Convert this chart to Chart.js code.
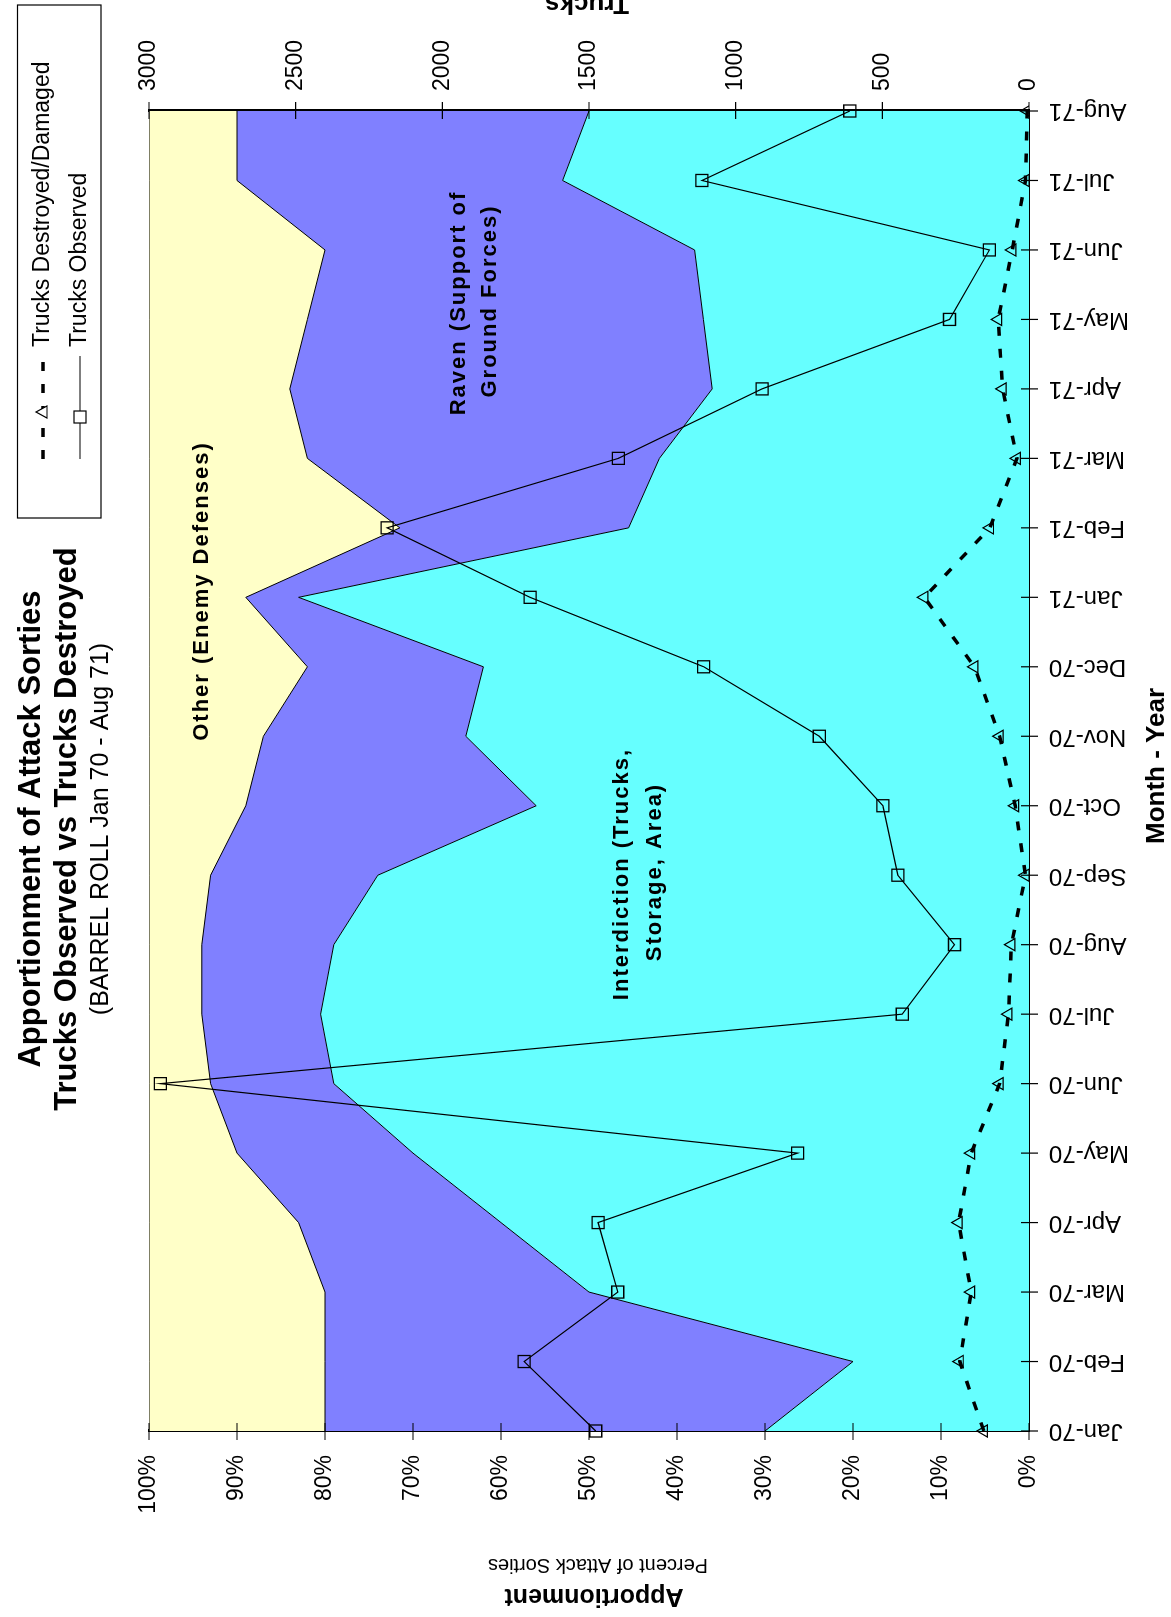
<!DOCTYPE html>
<html>
<head>
<meta charset="utf-8">
<script src="https://cdn.jsdelivr.net/npm/chart.js@4.4.1/dist/chart.umd.min.js"></script>
<style>
html, body { margin: 0; padding: 0; background: #fff; overflow: hidden; }
/* the chart is drawn landscape and turned a quarter turn to the left */
#wrap { position: absolute; left: 0; top: 1617px; width: 1617px; height: 1171px;
        transform-origin: 0 0; transform: rotate(-90deg); }
</style>
</head>
<body>
<div id="wrap"><canvas id="myChart" width="1617" height="1171"></canvas></div>
<script>
const months = ['Jan-70','Feb-70','Mar-70','Apr-70','May-70','Jun-70','Jul-70','Aug-70','Sep-70','Oct-70',
                'Nov-70','Dec-70','Jan-71','Feb-71','Mar-71','Apr-71','May-71','Jun-71','Jul-71','Aug-71'];
// percent of attack sorties
const interdiction = [30, 20, 50, 60, 70, 79, 80.5, 79, 74, 56, 64, 62, 83, 45.5, 42, 36, 37, 38, 53, 50];
const raven        = [50, 60, 30, 23, 20, 14, 13.5, 15, 19, 33, 23, 20, 6, 26, 40, 48, 45, 42, 37, 40];
const other        = [20, 20, 20, 17, 10, 7, 6, 6, 7, 11, 13, 18, 11, 28.5, 18, 16, 18, 20, 10, 10];
// trucks
const trucksObserved  = [1477, 1721, 1402, 1469, 789, 2961, 432, 254, 447, 498, 715, 1109, 1701, 2188, 1400, 910, 271, 135, 1115, 611];
const trucksDestroyed = [154, 236, 197, 240, 197, 100, 70, 60, 12, 47, 100, 186, 357, 133, 41, 90, 105, 57, 12, 6];

const FONT = "'Liberation Sans', Arial, sans-serif";
Chart.defaults.font.family = FONT;
Chart.defaults.color = '#000';

const data = {
  labels: months,
  datasets: [
    { type: 'line', label: 'Trucks Destroyed/Damaged', data: trucksDestroyed, yAxisID: 'y1',
      borderColor: '#000', borderWidth: 3.5, borderDash: [9, 13], fill: false, tension: 0,
      pointStyle: 'triangle', pointRadius: 7, pointBorderWidth: 1.2,
      pointBorderColor: '#000', pointBackgroundColor: 'rgba(0,0,0,0)' },
    { type: 'line', label: 'Trucks Observed', data: trucksObserved, yAxisID: 'y1',
      borderColor: '#000', borderWidth: 1.2, fill: false, tension: 0,
      pointStyle: 'rect', pointRadius: 8.5, pointBorderWidth: 1.3,
      pointBorderColor: '#000', pointBackgroundColor: 'rgba(0,0,0,0)' },
    { label: 'Interdiction', data: interdiction, yAxisID: 'y', backgroundColor: '#66FFFF',
      borderColor: '#000', borderWidth: 1, pointRadius: 0, fill: 'origin', tension: 0 },
    { label: 'Raven', data: raven, yAxisID: 'y', backgroundColor: '#8080FF',
      borderColor: '#000', borderWidth: 1, pointRadius: 0, fill: 2, tension: 0 },
    { label: 'Other', data: other, yAxisID: 'y', backgroundColor: '#FFFFC8',
      borderColor: '#000', borderWidth: 1, pointRadius: 0, fill: 3, tension: 0 }
  ]
};

function txt(ctx, s, x, y, font, align, rot, base, spacing) {
  ctx.save();
  ctx.translate(x, y);
  if (rot) ctx.rotate(rot);
  ctx.font = font;
  ctx.textAlign = align || 'center';
  ctx.textBaseline = base || 'middle';
  ctx.letterSpacing = spacing || '0px';
  ctx.fillStyle = '#000';
  ctx.fillText(s, 0, 0);
  ctx.restore();
}

const decor = {
  id: 'decor',
  afterDraw(chart) {
    const ctx = chart.ctx, a = chart.chartArea;
    const sx = chart.scales.x, sy = chart.scales.y, sy1 = chart.scales.y1;
    ctx.save();
    ctx.strokeStyle = '#000';
    ctx.lineWidth = 1.2;
    ctx.beginPath();
    // tick marks cross the axis lines
    sx.ticks.forEach((t, i) => { const p = sx.getPixelForTick(i); ctx.moveTo(p, a.bottom - 8); ctx.lineTo(p, a.bottom + 9); });
    sy.ticks.forEach(t => { const p = sy.getPixelForValue(t.value); ctx.moveTo(a.left - 9, p); ctx.lineTo(a.left + 8, p); });
    sy1.ticks.forEach(t => { const p = sy1.getPixelForValue(t.value); ctx.moveTo(a.right - 8, p); ctx.lineTo(a.right + 9, p); });
    ctx.stroke();

    // titles
    txt(ctx, 'Apportionment of Attack Sorties', 788, 31, 'bold 31px ' + FONT);
    txt(ctx, 'Trucks Observed vs Trucks Destroyed', 788, 67, 'bold 31px ' + FONT);
    txt(ctx, '(BARREL ROLL Jan 70 - Aug 71)', 788, 101, '25px ' + FONT);
    txt(ctx, 'Month - Year', 851, 1157, 'bold 26px ' + FONT);
    txt(ctx, 'Apportionment', 21, 594, 'bold 25px ' + FONT, 'center', -Math.PI / 2);
    txt(ctx, 'Percent of Attack Sorties', 52, 598, '20px ' + FONT, 'center', -Math.PI / 2);
    txt(ctx, 'Trucks', 1621, 587, 'bold 26px ' + FONT, 'center', -Math.PI / 2, 'alphabetic');

    // labels inside the areas
    const lf = 'bold 22px ' + FONT;
    txt(ctx, 'Other (Enemy Defenses)', 1026, 202, lf, 'center', 0, 'middle', '2px');
    txt(ctx, 'Raven (Support of', 1314, 459, lf, 'center', 0, 'middle', '2px');
    txt(ctx, 'Ground Forces)', 1316, 490, lf, 'center', 0, 'middle', '2px');
    txt(ctx, 'Interdiction (Trucks,', 743, 622, lf, 'center', 0, 'middle', '2px');
    txt(ctx, 'Storage, Area)', 745, 655, lf, 'center', 0, 'middle', '2px');

    // legend box
    ctx.lineWidth = 1.2;
    ctx.setLineDash([]);
    ctx.strokeRect(1099, 17.5, 513, 83.5);
    // row 1: dashed with triangle
    ctx.beginPath();
    ctx.lineWidth = 3.5;
    ctx.setLineDash([9, 13]);
    ctx.moveTo(1158, 43); ctx.lineTo(1261, 43);
    ctx.stroke();
    ctx.setLineDash([]);
    ctx.lineWidth = 1.2;
    ctx.fillStyle = '#fff';
    ctx.beginPath();
    ctx.moveTo(1205, 36); ctx.lineTo(1211, 47); ctx.lineTo(1199, 47); ctx.closePath();
    ctx.fill(); ctx.stroke();
    // row 2: solid with square
    ctx.beginPath();
    ctx.moveTo(1158, 80); ctx.lineTo(1261, 80);
    ctx.stroke();
    ctx.fillRect(1194, 74, 12, 12);
    ctx.strokeRect(1194, 74, 12, 12);
    txt(ctx, 'Trucks Destroyed/Damaged', 1270, 43, '23px ' + FONT, 'left');
    txt(ctx, 'Trucks Observed', 1270, 80, '23px ' + FONT, 'left');
    ctx.restore();
  }
};

const config = {
  type: 'line',
  data: data,
  options: {
    responsive: false,
    animation: false,
    devicePixelRatio: 1,
    layout: { padding: { top: 149, left: 0, right: 0, bottom: 0 } },
    plugins: { legend: { display: false }, title: { display: false }, tooltip: { enabled: false } },
    scales: {
      x: {
        type: 'category', offset: false,
        grid: { drawOnChartArea: false, drawTicks: false },
        border: { color: '#000', width: 2 },
        ticks: { autoSkip: false, minRotation: 90, maxRotation: 90, padding: 20, font: { size: 24 } },
        afterFit(s) { s.height = 142; }
      },
      y: {
        stacked: true, position: 'left', min: 0, max: 100,
        grid: { drawOnChartArea: false, drawTicks: false },
        border: { color: '#000', width: 3 },
        ticks: { stepSize: 10, padding: 24, font: { size: 23 }, callback: v => v + '%' },
        afterFit(s) { s.width = 186; }
      },
      y1: {
        position: 'right', min: 0, max: 3000,
        grid: { drawOnChartArea: false, drawTicks: false },
        border: { color: '#000', width: 3 },
        ticks: { stepSize: 500, padding: 20, font: { size: 23 }, callback: v => String(v) },
        afterFit(s) { s.width = 111; }
      }
    }
  },
  plugins: [decor]
};

const myChart = new Chart(document.getElementById('myChart'), config);
</script>
</body>
</html>
